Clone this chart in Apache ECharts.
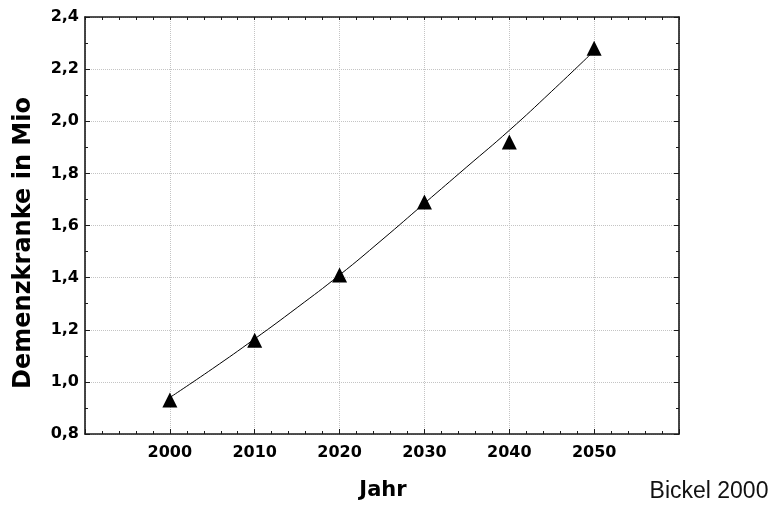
<!DOCTYPE html>
<html>
<head>
<meta charset="utf-8">
<script src="https://cdn.jsdelivr.net/npm/echarts@6/dist/echarts.min.js"></script>
<style>
  html, body { margin: 0; padding: 0; background: #fff; }
  #chart { width: 774px; height: 508px; }
</style>
</head>
<body>
<div id="chart"></div>
<script>
// Messpunkte (Bickel 2000)
var jahre = [2000, 2010, 2020, 2030, 2040, 2050];
var kranke = [0.93, 1.16, 1.41, 1.69, 1.92, 2.28];

// angepasste Kurve
var kurveJahre = [2000, 2005, 2010, 2015, 2020, 2025, 2030, 2035, 2040, 2045, 2050];
var kurveWerte = [0.94, 1.05, 1.165, 1.285, 1.41, 1.545, 1.685, 1.825, 1.965, 2.115, 2.27];

var myChart = echarts.init(document.getElementById('chart'));

function komma(v) { return v.toFixed(1).replace('.', ','); }

var lab = { fontFamily: 'DejaVu Sans', fontWeight: 'bold', fontSize: 16, color: '#000' };
var frame = { show: true, onZero: false, lineStyle: { color: '#1a1a1a', width: 1.6 } };
var tick = { color: '#1a1a1a', width: 1 };

var option = {
  backgroundColor: '#fff',
  animation: false,
  grid: { left: 85, right: 95, top: 17, bottom: 74 },
  xAxis: [{
    type: 'value', min: 1990, max: 2060, interval: 10,
    axisLine: frame,
    axisTick: { show: true, inside: true, length: 5, lineStyle: tick },
    minorTick: { show: true, splitNumber: 5, length: 3, lineStyle: tick },
    splitLine: { show: true, lineStyle: { color: '#c4c4c4', type: 'dotted', width: 1 } },
    axisLabel: Object.assign({ margin: 11, formatter: function (v) {
      return (v === 1990 || v === 2060) ? '' : String(v);
    } }, lab)
  }, {
    type: 'value', position: 'top', min: 1990, max: 2060, interval: 10,
    axisLine: frame,
    axisTick: { show: true, inside: true, length: 3, lineStyle: tick },
    minorTick: { show: true, splitNumber: 5, length: 3, lineStyle: tick },
    splitLine: { show: false }, axisLabel: { show: false }
  }],
  yAxis: [{
    type: 'value', min: 0.8, max: 2.4, interval: 0.2,
    axisLine: frame,
    axisTick: { show: true, inside: true, length: 5, lineStyle: tick },
    minorTick: { show: true, splitNumber: 2, length: 3, lineStyle: tick },
    splitLine: { show: true, lineStyle: { color: '#c4c4c4', type: 'dotted', width: 1 } },
    axisLabel: Object.assign({ margin: 6, formatter: komma }, lab)
  }, {
    type: 'value', position: 'right', min: 0.8, max: 2.4, interval: 0.2,
    axisLine: frame,
    axisTick: { show: true, inside: true, length: 5, lineStyle: tick },
    minorTick: { show: true, splitNumber: 2, length: 3, lineStyle: tick },
    splitLine: { show: false }, axisLabel: { show: false }
  }],
  graphic: [{
    type: 'text', x: 24, y: 243, rotation: Math.PI / 2,
    style: { text: 'Demenzkranke in Mio', font: 'bold 24px "DejaVu Sans"', fill: '#000',
      textAlign: 'center', textVerticalAlign: 'middle' }
  }, {
    type: 'text', x: 383, y: 491,
    style: { text: 'Jahr', font: 'bold 21px "DejaVu Sans"', fill: '#000',
      textAlign: 'center', textVerticalAlign: 'middle' }
  }, {
    type: 'text', x: 709, y: 492,
    style: { text: 'Bickel 2000', font: '23px "Liberation Sans"', fill: '#111',
      textAlign: 'center', textVerticalAlign: 'middle' }
  }],
  series: [{
    type: 'line',
    data: kurveJahre.map(function (j, i) { return [j, kurveWerte[i]]; }),
    smooth: true, showSymbol: false, symbol: 'none',
    lineStyle: { color: '#000', width: 1 }, z: 2
  }, {
    type: 'scatter',
    data: jahre.map(function (j, i) { return [j, kranke[i]]; }),
    symbol: 'triangle', symbolSize: [15, 15],
    itemStyle: { color: '#000', opacity: 1 }, z: 3
  }]
};

myChart.setOption(option);
</script>
</body>
</html>
